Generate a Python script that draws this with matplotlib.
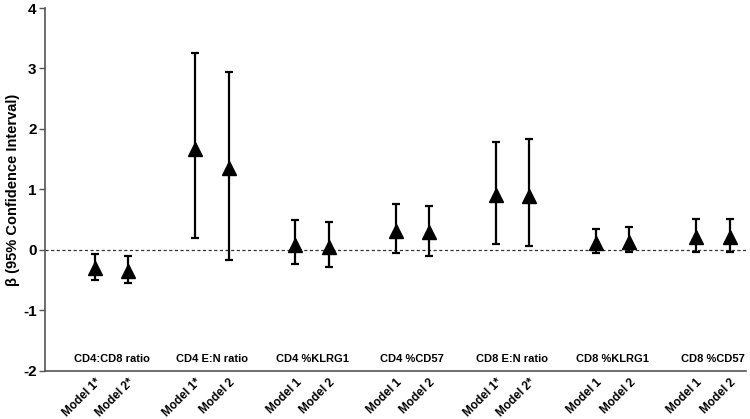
import numpy as np
import matplotlib.pyplot as plt

plt.rcParams['font.family'] = ['Liberation Sans', 'DejaVu Sans']
plt.rcParams['axes.unicode_minus'] = False

# Groups and models (Excel-style category axis with blank slots between groups)
groups = ['CD4:CD8 ratio', 'CD4 E:N ratio', 'CD4 %KLRG1', 'CD4 %CD57',
          'CD8 E:N ratio', 'CD8 %KLRG1', 'CD8 %CD57']
model_labels = ['Model 1*', 'Model 2*', 'Model 1*', 'Model 2', 'Model 1', 'Model 2',
                'Model 1', 'Model 2', 'Model 1*', 'Model 2*', 'Model 1', 'Model 2',
                'Model 1', 'Model 2']
beta = [-0.30, -0.34, 1.67, 1.35, 0.09, 0.05, 0.32, 0.29, 0.91, 0.90, 0.11, 0.13, 0.21, 0.22]
ci_low = [-0.50, -0.54, 0.19, -0.17, -0.23, -0.28, -0.05, -0.10, 0.10, 0.06, -0.05, -0.04, -0.04, -0.04]
ci_high = [-0.07, -0.10, 3.25, 2.95, 0.50, 0.47, 0.76, 0.73, 1.79, 1.84, 0.35, 0.38, 0.51, 0.52]

beta = np.array(beta)
ci_low = np.array(ci_low)
ci_high = np.array(ci_high)

# slot positions: 1,2, 4,5, 7,8, ...
x = np.array([3 * g + k + 1 for g in range(len(groups)) for k in range(2)])

fig = plt.figure(figsize=(7.5, 4.19), dpi=100)
ax = fig.add_axes([0.06, 0.1146, 0.935, 0.8663])

ax.axhline(0, color='#333333', linestyle=(0, (2.5, 2)), linewidth=0.9, zorder=1)

ax.errorbar(x, beta, yerr=[beta - ci_low, ci_high - beta], fmt='^', color='black',
            markersize=10, elinewidth=1.6, capsize=3, capthick=1.6, zorder=3)

for g, name in enumerate(groups):
    ax.text(3 * g + 1.5, -1.8, name, ha='center', va='center',
            fontsize=8, fontweight='bold')

ax.set_xlim(-0.5, 20.5)
ax.set_ylim(-2, 4)
ax.set_yticks(range(-2, 5))
ax.tick_params(axis='y', labelsize=11, length=4, width=1, color='#555555', pad=2)
for lbl in ax.get_yticklabels():
    lbl.set_fontweight('bold')

ax.set_xticks(x)
ax.set_xticklabels(model_labels, rotation=45, ha='right', rotation_mode='anchor',
                   fontsize=8.5, fontweight='bold')
ax.tick_params(axis='x', length=0, pad=4)

ax.set_ylabel('β (95% Confidence Interval)', fontsize=10.5, fontweight='bold')
ax.yaxis.set_label_coords(-0.035, 0.5)

for side in ['top', 'right']:
    ax.spines[side].set_visible(False)
for side in ['left', 'bottom']:
    ax.spines[side].set_color('#555555')
    ax.spines[side].set_linewidth(1.2)

fig.savefig('out.png', dpi=100)
